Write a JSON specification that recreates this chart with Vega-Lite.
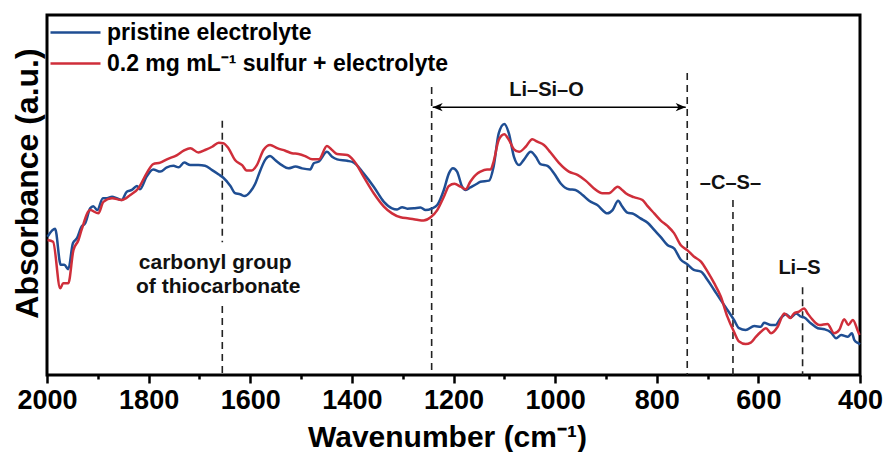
{
  "$schema": "https://vega.github.io/schema/vega-lite/v6.json",
  "width": 813,
  "height": 360,
  "autosize": "none",
  "padding": {"left": 47, "top": 15, "right": 25, "bottom": 77},
  "background": "white",
  "config": {
    "font": "Liberation Sans",
    "view": {"stroke": "black", "strokeWidth": 3},
    "axis": {"grid": false}
  },
  "datasets": {
    "spectra": [
      {"series": "pristine electrolyte", "wavenumber": 1999, "absorbance": 0.384},
      {"series": "pristine electrolyte", "wavenumber": 1984, "absorbance": 0.406},
      {"series": "pristine electrolyte", "wavenumber": 1973, "absorbance": 0.306},
      {"series": "pristine electrolyte", "wavenumber": 1966, "absorbance": 0.306},
      {"series": "pristine electrolyte", "wavenumber": 1958, "absorbance": 0.294},
      {"series": "pristine electrolyte", "wavenumber": 1949, "absorbance": 0.366},
      {"series": "pristine electrolyte", "wavenumber": 1941, "absorbance": 0.380},
      {"series": "pristine electrolyte", "wavenumber": 1932, "absorbance": 0.412},
      {"series": "pristine electrolyte", "wavenumber": 1925, "absorbance": 0.421},
      {"series": "pristine electrolyte", "wavenumber": 1915, "absorbance": 0.463},
      {"series": "pristine electrolyte", "wavenumber": 1909, "absorbance": 0.469},
      {"series": "pristine electrolyte", "wavenumber": 1901, "absorbance": 0.458},
      {"series": "pristine electrolyte", "wavenumber": 1890, "absorbance": 0.491},
      {"series": "pristine electrolyte", "wavenumber": 1882, "absorbance": 0.491},
      {"series": "pristine electrolyte", "wavenumber": 1872, "absorbance": 0.495},
      {"series": "pristine electrolyte", "wavenumber": 1863, "absorbance": 0.491},
      {"series": "pristine electrolyte", "wavenumber": 1853, "absorbance": 0.486},
      {"series": "pristine electrolyte", "wavenumber": 1843, "absorbance": 0.509},
      {"series": "pristine electrolyte", "wavenumber": 1833, "absorbance": 0.514},
      {"series": "pristine electrolyte", "wavenumber": 1823, "absorbance": 0.525},
      {"series": "pristine electrolyte", "wavenumber": 1817, "absorbance": 0.516},
      {"series": "pristine electrolyte", "wavenumber": 1804, "absorbance": 0.551},
      {"series": "pristine electrolyte", "wavenumber": 1791, "absorbance": 0.571},
      {"series": "pristine electrolyte", "wavenumber": 1777, "absorbance": 0.565},
      {"series": "pristine electrolyte", "wavenumber": 1764, "absorbance": 0.577},
      {"series": "pristine electrolyte", "wavenumber": 1751, "absorbance": 0.581},
      {"series": "pristine electrolyte", "wavenumber": 1741, "absorbance": 0.577},
      {"series": "pristine electrolyte", "wavenumber": 1730, "absorbance": 0.590},
      {"series": "pristine electrolyte", "wavenumber": 1718, "absorbance": 0.583},
      {"series": "pristine electrolyte", "wavenumber": 1702, "absorbance": 0.583},
      {"series": "pristine electrolyte", "wavenumber": 1689, "absorbance": 0.581},
      {"series": "pristine electrolyte", "wavenumber": 1675, "absorbance": 0.569},
      {"series": "pristine electrolyte", "wavenumber": 1662, "absorbance": 0.557},
      {"series": "pristine electrolyte", "wavenumber": 1653, "absorbance": 0.548},
      {"series": "pristine electrolyte", "wavenumber": 1639, "absorbance": 0.525},
      {"series": "pristine electrolyte", "wavenumber": 1630, "absorbance": 0.505},
      {"series": "pristine electrolyte", "wavenumber": 1620, "absorbance": 0.502},
      {"series": "pristine electrolyte", "wavenumber": 1611, "absorbance": 0.497},
      {"series": "pristine electrolyte", "wavenumber": 1600, "absorbance": 0.509},
      {"series": "pristine electrolyte", "wavenumber": 1590, "absorbance": 0.532},
      {"series": "pristine electrolyte", "wavenumber": 1580, "absorbance": 0.569},
      {"series": "pristine electrolyte", "wavenumber": 1570, "absorbance": 0.599},
      {"series": "pristine electrolyte", "wavenumber": 1561, "absorbance": 0.608},
      {"series": "pristine electrolyte", "wavenumber": 1551, "absorbance": 0.597},
      {"series": "pristine electrolyte", "wavenumber": 1538, "absorbance": 0.583},
      {"series": "pristine electrolyte", "wavenumber": 1525, "absorbance": 0.574},
      {"series": "pristine electrolyte", "wavenumber": 1511, "absorbance": 0.579},
      {"series": "pristine electrolyte", "wavenumber": 1498, "absorbance": 0.574},
      {"series": "pristine electrolyte", "wavenumber": 1482, "absorbance": 0.571},
      {"series": "pristine electrolyte", "wavenumber": 1475, "absorbance": 0.588},
      {"series": "pristine electrolyte", "wavenumber": 1465, "absorbance": 0.593},
      {"series": "pristine electrolyte", "wavenumber": 1449, "absorbance": 0.620},
      {"series": "pristine electrolyte", "wavenumber": 1439, "absorbance": 0.606},
      {"series": "pristine electrolyte", "wavenumber": 1429, "absorbance": 0.599},
      {"series": "pristine electrolyte", "wavenumber": 1409, "absorbance": 0.595},
      {"series": "pristine electrolyte", "wavenumber": 1396, "absorbance": 0.590},
      {"series": "pristine electrolyte", "wavenumber": 1377, "absorbance": 0.560},
      {"series": "pristine electrolyte", "wavenumber": 1357, "absorbance": 0.523},
      {"series": "pristine electrolyte", "wavenumber": 1337, "absorbance": 0.481},
      {"series": "pristine electrolyte", "wavenumber": 1321, "absorbance": 0.463},
      {"series": "pristine electrolyte", "wavenumber": 1311, "absorbance": 0.460},
      {"series": "pristine electrolyte", "wavenumber": 1301, "absorbance": 0.466},
      {"series": "pristine electrolyte", "wavenumber": 1291, "absorbance": 0.462},
      {"series": "pristine electrolyte", "wavenumber": 1278, "absorbance": 0.463},
      {"series": "pristine electrolyte", "wavenumber": 1265, "absorbance": 0.465},
      {"series": "pristine electrolyte", "wavenumber": 1255, "absorbance": 0.458},
      {"series": "pristine electrolyte", "wavenumber": 1242, "absorbance": 0.463},
      {"series": "pristine electrolyte", "wavenumber": 1232, "absorbance": 0.472},
      {"series": "pristine electrolyte", "wavenumber": 1219, "absorbance": 0.514},
      {"series": "pristine electrolyte", "wavenumber": 1209, "absorbance": 0.560},
      {"series": "pristine electrolyte", "wavenumber": 1201, "absorbance": 0.574},
      {"series": "pristine electrolyte", "wavenumber": 1193, "absorbance": 0.565},
      {"series": "pristine electrolyte", "wavenumber": 1183, "absorbance": 0.523},
      {"series": "pristine electrolyte", "wavenumber": 1176, "absorbance": 0.514},
      {"series": "pristine electrolyte", "wavenumber": 1167, "absorbance": 0.521},
      {"series": "pristine electrolyte", "wavenumber": 1153, "absorbance": 0.532},
      {"series": "pristine electrolyte", "wavenumber": 1147, "absorbance": 0.537},
      {"series": "pristine electrolyte", "wavenumber": 1130, "absorbance": 0.540},
      {"series": "pristine electrolyte", "wavenumber": 1121, "absorbance": 0.579},
      {"series": "pristine electrolyte", "wavenumber": 1111, "absorbance": 0.671},
      {"series": "pristine electrolyte", "wavenumber": 1100, "absorbance": 0.697},
      {"series": "pristine electrolyte", "wavenumber": 1091, "absorbance": 0.671},
      {"series": "pristine electrolyte", "wavenumber": 1081, "absorbance": 0.606},
      {"series": "pristine electrolyte", "wavenumber": 1071, "absorbance": 0.583},
      {"series": "pristine electrolyte", "wavenumber": 1062, "absorbance": 0.597},
      {"series": "pristine electrolyte", "wavenumber": 1048, "absorbance": 0.620},
      {"series": "pristine electrolyte", "wavenumber": 1038, "absorbance": 0.606},
      {"series": "pristine electrolyte", "wavenumber": 1029, "absorbance": 0.586},
      {"series": "pristine electrolyte", "wavenumber": 1015, "absorbance": 0.581},
      {"series": "pristine electrolyte", "wavenumber": 1002, "absorbance": 0.560},
      {"series": "pristine electrolyte", "wavenumber": 989, "absorbance": 0.532},
      {"series": "pristine electrolyte", "wavenumber": 973, "absorbance": 0.516},
      {"series": "pristine electrolyte", "wavenumber": 960, "absorbance": 0.514},
      {"series": "pristine electrolyte", "wavenumber": 946, "absorbance": 0.500},
      {"series": "pristine electrolyte", "wavenumber": 933, "absorbance": 0.484},
      {"series": "pristine electrolyte", "wavenumber": 917, "absorbance": 0.472},
      {"series": "pristine electrolyte", "wavenumber": 897, "absorbance": 0.449},
      {"series": "pristine electrolyte", "wavenumber": 887, "absorbance": 0.458},
      {"series": "pristine electrolyte", "wavenumber": 876, "absorbance": 0.484},
      {"series": "pristine electrolyte", "wavenumber": 868, "absorbance": 0.468},
      {"series": "pristine electrolyte", "wavenumber": 858, "absorbance": 0.451},
      {"series": "pristine electrolyte", "wavenumber": 845, "absorbance": 0.447},
      {"series": "pristine electrolyte", "wavenumber": 832, "absorbance": 0.435},
      {"series": "pristine electrolyte", "wavenumber": 818, "absorbance": 0.423},
      {"series": "pristine electrolyte", "wavenumber": 805, "absorbance": 0.403},
      {"series": "pristine electrolyte", "wavenumber": 792, "absorbance": 0.383},
      {"series": "pristine electrolyte", "wavenumber": 779, "absorbance": 0.361},
      {"series": "pristine electrolyte", "wavenumber": 766, "absorbance": 0.352},
      {"series": "pristine electrolyte", "wavenumber": 753, "absorbance": 0.321},
      {"series": "pristine electrolyte", "wavenumber": 740, "absorbance": 0.308},
      {"series": "pristine electrolyte", "wavenumber": 727, "absorbance": 0.292},
      {"series": "pristine electrolyte", "wavenumber": 713, "absorbance": 0.287},
      {"series": "pristine electrolyte", "wavenumber": 700, "absorbance": 0.264},
      {"series": "pristine electrolyte", "wavenumber": 687, "absorbance": 0.236},
      {"series": "pristine electrolyte", "wavenumber": 674, "absorbance": 0.208},
      {"series": "pristine electrolyte", "wavenumber": 661, "absorbance": 0.181},
      {"series": "pristine electrolyte", "wavenumber": 648, "absorbance": 0.153},
      {"series": "pristine electrolyte", "wavenumber": 638, "absorbance": 0.130},
      {"series": "pristine electrolyte", "wavenumber": 625, "absorbance": 0.125},
      {"series": "pristine electrolyte", "wavenumber": 608, "absorbance": 0.136},
      {"series": "pristine electrolyte", "wavenumber": 595, "absorbance": 0.134},
      {"series": "pristine electrolyte", "wavenumber": 589, "absorbance": 0.145},
      {"series": "pristine electrolyte", "wavenumber": 575, "absorbance": 0.139},
      {"series": "pristine electrolyte", "wavenumber": 566, "absorbance": 0.139},
      {"series": "pristine electrolyte", "wavenumber": 556, "absorbance": 0.158},
      {"series": "pristine electrolyte", "wavenumber": 546, "absorbance": 0.169},
      {"series": "pristine electrolyte", "wavenumber": 536, "absorbance": 0.160},
      {"series": "pristine electrolyte", "wavenumber": 526, "absorbance": 0.171},
      {"series": "pristine electrolyte", "wavenumber": 516, "absorbance": 0.162},
      {"series": "pristine electrolyte", "wavenumber": 510, "absorbance": 0.160},
      {"series": "pristine electrolyte", "wavenumber": 497, "absorbance": 0.144},
      {"series": "pristine electrolyte", "wavenumber": 483, "absorbance": 0.130},
      {"series": "pristine electrolyte", "wavenumber": 470, "absorbance": 0.127},
      {"series": "pristine electrolyte", "wavenumber": 457, "absorbance": 0.118},
      {"series": "pristine electrolyte", "wavenumber": 447, "absorbance": 0.102},
      {"series": "pristine electrolyte", "wavenumber": 437, "absorbance": 0.111},
      {"series": "pristine electrolyte", "wavenumber": 424, "absorbance": 0.106},
      {"series": "pristine electrolyte", "wavenumber": 416, "absorbance": 0.116},
      {"series": "pristine electrolyte", "wavenumber": 411, "absorbance": 0.097},
      {"series": "pristine electrolyte", "wavenumber": 403, "absorbance": 0.088},
      {"series": "pristine electrolyte", "wavenumber": 400, "absorbance": 0.085},
      {"series": "0.2 mg mL⁻¹ sulfur + electrolyte", "wavenumber": 1999, "absorbance": 0.375},
      {"series": "0.2 mg mL⁻¹ sulfur + electrolyte", "wavenumber": 1988, "absorbance": 0.370},
      {"series": "0.2 mg mL⁻¹ sulfur + electrolyte", "wavenumber": 1974, "absorbance": 0.241},
      {"series": "0.2 mg mL⁻¹ sulfur + electrolyte", "wavenumber": 1968, "absorbance": 0.255},
      {"series": "0.2 mg mL⁻¹ sulfur + electrolyte", "wavenumber": 1958, "absorbance": 0.255},
      {"series": "0.2 mg mL⁻¹ sulfur + electrolyte", "wavenumber": 1948, "absorbance": 0.347},
      {"series": "0.2 mg mL⁻¹ sulfur + electrolyte", "wavenumber": 1938, "absorbance": 0.375},
      {"series": "0.2 mg mL⁻¹ sulfur + electrolyte", "wavenumber": 1932, "absorbance": 0.403},
      {"series": "0.2 mg mL⁻¹ sulfur + electrolyte", "wavenumber": 1915, "absorbance": 0.458},
      {"series": "0.2 mg mL⁻¹ sulfur + electrolyte", "wavenumber": 1899, "absorbance": 0.449},
      {"series": "0.2 mg mL⁻¹ sulfur + electrolyte", "wavenumber": 1889, "absorbance": 0.481},
      {"series": "0.2 mg mL⁻¹ sulfur + electrolyte", "wavenumber": 1872, "absorbance": 0.491},
      {"series": "0.2 mg mL⁻¹ sulfur + electrolyte", "wavenumber": 1853, "absorbance": 0.486},
      {"series": "0.2 mg mL⁻¹ sulfur + electrolyte", "wavenumber": 1836, "absorbance": 0.500},
      {"series": "0.2 mg mL⁻¹ sulfur + electrolyte", "wavenumber": 1820, "absorbance": 0.519},
      {"series": "0.2 mg mL⁻¹ sulfur + electrolyte", "wavenumber": 1804, "absorbance": 0.560},
      {"series": "0.2 mg mL⁻¹ sulfur + electrolyte", "wavenumber": 1791, "absorbance": 0.586},
      {"series": "0.2 mg mL⁻¹ sulfur + electrolyte", "wavenumber": 1777, "absorbance": 0.590},
      {"series": "0.2 mg mL⁻¹ sulfur + electrolyte", "wavenumber": 1764, "absorbance": 0.599},
      {"series": "0.2 mg mL⁻¹ sulfur + electrolyte", "wavenumber": 1744, "absorbance": 0.611},
      {"series": "0.2 mg mL⁻¹ sulfur + electrolyte", "wavenumber": 1731, "absorbance": 0.623},
      {"series": "0.2 mg mL⁻¹ sulfur + electrolyte", "wavenumber": 1718, "absorbance": 0.630},
      {"series": "0.2 mg mL⁻¹ sulfur + electrolyte", "wavenumber": 1702, "absorbance": 0.618},
      {"series": "0.2 mg mL⁻¹ sulfur + electrolyte", "wavenumber": 1689, "absorbance": 0.625},
      {"series": "0.2 mg mL⁻¹ sulfur + electrolyte", "wavenumber": 1675, "absorbance": 0.634},
      {"series": "0.2 mg mL⁻¹ sulfur + electrolyte", "wavenumber": 1662, "absorbance": 0.645},
      {"series": "0.2 mg mL⁻¹ sulfur + electrolyte", "wavenumber": 1653, "absorbance": 0.644},
      {"series": "0.2 mg mL⁻¹ sulfur + electrolyte", "wavenumber": 1643, "absorbance": 0.630},
      {"series": "0.2 mg mL⁻¹ sulfur + electrolyte", "wavenumber": 1630, "absorbance": 0.597},
      {"series": "0.2 mg mL⁻¹ sulfur + electrolyte", "wavenumber": 1616, "absorbance": 0.583},
      {"series": "0.2 mg mL⁻¹ sulfur + electrolyte", "wavenumber": 1607, "absorbance": 0.568},
      {"series": "0.2 mg mL⁻¹ sulfur + electrolyte", "wavenumber": 1597, "absorbance": 0.568},
      {"series": "0.2 mg mL⁻¹ sulfur + electrolyte", "wavenumber": 1587, "absorbance": 0.583},
      {"series": "0.2 mg mL⁻¹ sulfur + electrolyte", "wavenumber": 1574, "absorbance": 0.625},
      {"series": "0.2 mg mL⁻¹ sulfur + electrolyte", "wavenumber": 1561, "absorbance": 0.639},
      {"series": "0.2 mg mL⁻¹ sulfur + electrolyte", "wavenumber": 1547, "absorbance": 0.630},
      {"series": "0.2 mg mL⁻¹ sulfur + electrolyte", "wavenumber": 1531, "absorbance": 0.623},
      {"series": "0.2 mg mL⁻¹ sulfur + electrolyte", "wavenumber": 1518, "absorbance": 0.616},
      {"series": "0.2 mg mL⁻¹ sulfur + electrolyte", "wavenumber": 1505, "absorbance": 0.614},
      {"series": "0.2 mg mL⁻¹ sulfur + electrolyte", "wavenumber": 1492, "absorbance": 0.608},
      {"series": "0.2 mg mL⁻¹ sulfur + electrolyte", "wavenumber": 1478, "absorbance": 0.599},
      {"series": "0.2 mg mL⁻¹ sulfur + electrolyte", "wavenumber": 1465, "absorbance": 0.599},
      {"series": "0.2 mg mL⁻¹ sulfur + electrolyte", "wavenumber": 1449, "absorbance": 0.636},
      {"series": "0.2 mg mL⁻¹ sulfur + electrolyte", "wavenumber": 1439, "absorbance": 0.625},
      {"series": "0.2 mg mL⁻¹ sulfur + electrolyte", "wavenumber": 1429, "absorbance": 0.614},
      {"series": "0.2 mg mL⁻¹ sulfur + electrolyte", "wavenumber": 1409, "absorbance": 0.611},
      {"series": "0.2 mg mL⁻¹ sulfur + electrolyte", "wavenumber": 1396, "absorbance": 0.595},
      {"series": "0.2 mg mL⁻¹ sulfur + electrolyte", "wavenumber": 1377, "absorbance": 0.551},
      {"series": "0.2 mg mL⁻¹ sulfur + electrolyte", "wavenumber": 1357, "absorbance": 0.505},
      {"series": "0.2 mg mL⁻¹ sulfur + electrolyte", "wavenumber": 1337, "absorbance": 0.468},
      {"series": "0.2 mg mL⁻¹ sulfur + electrolyte", "wavenumber": 1321, "absorbance": 0.449},
      {"series": "0.2 mg mL⁻¹ sulfur + electrolyte", "wavenumber": 1304, "absorbance": 0.438},
      {"series": "0.2 mg mL⁻¹ sulfur + electrolyte", "wavenumber": 1288, "absorbance": 0.435},
      {"series": "0.2 mg mL⁻¹ sulfur + electrolyte", "wavenumber": 1272, "absorbance": 0.431},
      {"series": "0.2 mg mL⁻¹ sulfur + electrolyte", "wavenumber": 1259, "absorbance": 0.429},
      {"series": "0.2 mg mL⁻¹ sulfur + electrolyte", "wavenumber": 1245, "absorbance": 0.438},
      {"series": "0.2 mg mL⁻¹ sulfur + electrolyte", "wavenumber": 1232, "absorbance": 0.458},
      {"series": "0.2 mg mL⁻¹ sulfur + electrolyte", "wavenumber": 1219, "absorbance": 0.495},
      {"series": "0.2 mg mL⁻¹ sulfur + electrolyte", "wavenumber": 1209, "absorbance": 0.525},
      {"series": "0.2 mg mL⁻¹ sulfur + electrolyte", "wavenumber": 1198, "absorbance": 0.531},
      {"series": "0.2 mg mL⁻¹ sulfur + electrolyte", "wavenumber": 1186, "absorbance": 0.523},
      {"series": "0.2 mg mL⁻¹ sulfur + electrolyte", "wavenumber": 1176, "absorbance": 0.516},
      {"series": "0.2 mg mL⁻¹ sulfur + electrolyte", "wavenumber": 1167, "absorbance": 0.537},
      {"series": "0.2 mg mL⁻¹ sulfur + electrolyte", "wavenumber": 1153, "absorbance": 0.560},
      {"series": "0.2 mg mL⁻¹ sulfur + electrolyte", "wavenumber": 1147, "absorbance": 0.565},
      {"series": "0.2 mg mL⁻¹ sulfur + electrolyte", "wavenumber": 1134, "absorbance": 0.571},
      {"series": "0.2 mg mL⁻¹ sulfur + electrolyte", "wavenumber": 1127, "absorbance": 0.571},
      {"series": "0.2 mg mL⁻¹ sulfur + electrolyte", "wavenumber": 1121, "absorbance": 0.593},
      {"series": "0.2 mg mL⁻¹ sulfur + electrolyte", "wavenumber": 1111, "absorbance": 0.653},
      {"series": "0.2 mg mL⁻¹ sulfur + electrolyte", "wavenumber": 1100, "absorbance": 0.669},
      {"series": "0.2 mg mL⁻¹ sulfur + electrolyte", "wavenumber": 1091, "absorbance": 0.653},
      {"series": "0.2 mg mL⁻¹ sulfur + electrolyte", "wavenumber": 1081, "absorbance": 0.627},
      {"series": "0.2 mg mL⁻¹ sulfur + electrolyte", "wavenumber": 1071, "absorbance": 0.620},
      {"series": "0.2 mg mL⁻¹ sulfur + electrolyte", "wavenumber": 1058, "absorbance": 0.634},
      {"series": "0.2 mg mL⁻¹ sulfur + electrolyte", "wavenumber": 1045, "absorbance": 0.655},
      {"series": "0.2 mg mL⁻¹ sulfur + electrolyte", "wavenumber": 1035, "absorbance": 0.648},
      {"series": "0.2 mg mL⁻¹ sulfur + electrolyte", "wavenumber": 1022, "absorbance": 0.639},
      {"series": "0.2 mg mL⁻¹ sulfur + electrolyte", "wavenumber": 1009, "absorbance": 0.618},
      {"series": "0.2 mg mL⁻¹ sulfur + electrolyte", "wavenumber": 993, "absorbance": 0.590},
      {"series": "0.2 mg mL⁻¹ sulfur + electrolyte", "wavenumber": 973, "absorbance": 0.565},
      {"series": "0.2 mg mL⁻¹ sulfur + electrolyte", "wavenumber": 956, "absorbance": 0.556},
      {"series": "0.2 mg mL⁻¹ sulfur + electrolyte", "wavenumber": 940, "absorbance": 0.540},
      {"series": "0.2 mg mL⁻¹ sulfur + electrolyte", "wavenumber": 924, "absorbance": 0.519},
      {"series": "0.2 mg mL⁻¹ sulfur + electrolyte", "wavenumber": 907, "absorbance": 0.505},
      {"series": "0.2 mg mL⁻¹ sulfur + electrolyte", "wavenumber": 894, "absorbance": 0.505},
      {"series": "0.2 mg mL⁻¹ sulfur + electrolyte", "wavenumber": 877, "absorbance": 0.523},
      {"series": "0.2 mg mL⁻¹ sulfur + electrolyte", "wavenumber": 868, "absorbance": 0.514},
      {"series": "0.2 mg mL⁻¹ sulfur + electrolyte", "wavenumber": 861, "absorbance": 0.505},
      {"series": "0.2 mg mL⁻¹ sulfur + electrolyte", "wavenumber": 845, "absorbance": 0.494},
      {"series": "0.2 mg mL⁻¹ sulfur + electrolyte", "wavenumber": 828, "absorbance": 0.486},
      {"series": "0.2 mg mL⁻¹ sulfur + electrolyte", "wavenumber": 818, "absorbance": 0.469},
      {"series": "0.2 mg mL⁻¹ sulfur + electrolyte", "wavenumber": 805, "absorbance": 0.449},
      {"series": "0.2 mg mL⁻¹ sulfur + electrolyte", "wavenumber": 792, "absorbance": 0.429},
      {"series": "0.2 mg mL⁻¹ sulfur + electrolyte", "wavenumber": 779, "absorbance": 0.414},
      {"series": "0.2 mg mL⁻¹ sulfur + electrolyte", "wavenumber": 766, "absorbance": 0.394},
      {"series": "0.2 mg mL⁻¹ sulfur + electrolyte", "wavenumber": 753, "absorbance": 0.361},
      {"series": "0.2 mg mL⁻¹ sulfur + electrolyte", "wavenumber": 740, "absorbance": 0.347},
      {"series": "0.2 mg mL⁻¹ sulfur + electrolyte", "wavenumber": 727, "absorbance": 0.329},
      {"series": "0.2 mg mL⁻¹ sulfur + electrolyte", "wavenumber": 713, "absorbance": 0.315},
      {"series": "0.2 mg mL⁻¹ sulfur + electrolyte", "wavenumber": 700, "absorbance": 0.287},
      {"series": "0.2 mg mL⁻¹ sulfur + electrolyte", "wavenumber": 687, "absorbance": 0.255},
      {"series": "0.2 mg mL⁻¹ sulfur + electrolyte", "wavenumber": 674, "absorbance": 0.218},
      {"series": "0.2 mg mL⁻¹ sulfur + electrolyte", "wavenumber": 661, "absorbance": 0.162},
      {"series": "0.2 mg mL⁻¹ sulfur + electrolyte", "wavenumber": 648, "absorbance": 0.120},
      {"series": "0.2 mg mL⁻¹ sulfur + electrolyte", "wavenumber": 638, "absorbance": 0.093},
      {"series": "0.2 mg mL⁻¹ sulfur + electrolyte", "wavenumber": 625, "absorbance": 0.086},
      {"series": "0.2 mg mL⁻¹ sulfur + electrolyte", "wavenumber": 615, "absorbance": 0.090},
      {"series": "0.2 mg mL⁻¹ sulfur + electrolyte", "wavenumber": 605, "absorbance": 0.106},
      {"series": "0.2 mg mL⁻¹ sulfur + electrolyte", "wavenumber": 595, "absorbance": 0.120},
      {"series": "0.2 mg mL⁻¹ sulfur + electrolyte", "wavenumber": 585, "absorbance": 0.130},
      {"series": "0.2 mg mL⁻¹ sulfur + electrolyte", "wavenumber": 575, "absorbance": 0.116},
      {"series": "0.2 mg mL⁻¹ sulfur + electrolyte", "wavenumber": 562, "absorbance": 0.134},
      {"series": "0.2 mg mL⁻¹ sulfur + electrolyte", "wavenumber": 549, "absorbance": 0.171},
      {"series": "0.2 mg mL⁻¹ sulfur + electrolyte", "wavenumber": 537, "absorbance": 0.158},
      {"series": "0.2 mg mL⁻¹ sulfur + electrolyte", "wavenumber": 530, "absorbance": 0.171},
      {"series": "0.2 mg mL⁻¹ sulfur + electrolyte", "wavenumber": 520, "absorbance": 0.176},
      {"series": "0.2 mg mL⁻¹ sulfur + electrolyte", "wavenumber": 510, "absorbance": 0.185},
      {"series": "0.2 mg mL⁻¹ sulfur + electrolyte", "wavenumber": 503, "absorbance": 0.171},
      {"series": "0.2 mg mL⁻¹ sulfur + electrolyte", "wavenumber": 493, "absorbance": 0.153},
      {"series": "0.2 mg mL⁻¹ sulfur + electrolyte", "wavenumber": 480, "absorbance": 0.139},
      {"series": "0.2 mg mL⁻¹ sulfur + electrolyte", "wavenumber": 464, "absorbance": 0.142},
      {"series": "0.2 mg mL⁻¹ sulfur + electrolyte", "wavenumber": 451, "absorbance": 0.116},
      {"series": "0.2 mg mL⁻¹ sulfur + electrolyte", "wavenumber": 441, "absorbance": 0.125},
      {"series": "0.2 mg mL⁻¹ sulfur + electrolyte", "wavenumber": 431, "absorbance": 0.155},
      {"series": "0.2 mg mL⁻¹ sulfur + electrolyte", "wavenumber": 423, "absorbance": 0.139},
      {"series": "0.2 mg mL⁻¹ sulfur + electrolyte", "wavenumber": 414, "absorbance": 0.153},
      {"series": "0.2 mg mL⁻¹ sulfur + electrolyte", "wavenumber": 405, "absorbance": 0.125},
      {"series": "0.2 mg mL⁻¹ sulfur + electrolyte", "wavenumber": 401, "absorbance": 0.111}
    ],
    "markers": [
      {"wavenumber": 1655, "absorbance": 0.706, "absorbance_end": 0.369},
      {"wavenumber": 1655, "absorbance": 0.192, "absorbance_end": 0},
      {"wavenumber": 1243, "absorbance": 0.8, "absorbance_end": 0},
      {"wavenumber": 740, "absorbance": 0.839, "absorbance_end": 0},
      {"wavenumber": 650, "absorbance": 0.486, "absorbance_end": 0},
      {"wavenumber": 513, "absorbance": 0.244, "absorbance_end": 0}
    ],
    "span": [
      {"wavenumber": 1241, "wavenumber_end": 743, "absorbance": 0.744}
    ],
    "labels": [
      {"label": "Li–Si–O", "wavenumber": 1017, "absorbance": 0.792, "size": "normal"},
      {"label": "–C–S–", "wavenumber": 655, "absorbance": 0.533, "size": "normal"},
      {"label": "Li–S", "wavenumber": 519, "absorbance": 0.297, "size": "normal"},
      {"label": "carbonyl group", "wavenumber": 1669, "absorbance": 0.311, "size": "large"},
      {"label": "of thiocarbonate", "wavenumber": 1663, "absorbance": 0.244, "size": "large"}
    ]
  },
  "encoding": {
    "x": {
      "field": "wavenumber",
      "type": "quantitative",
      "scale": {"domain": [2000, 400], "nice": false, "zero": false},
      "axis": {
        "title": "Wavenumber (cm⁻¹)",
        "values": [2000, 1900, 1800, 1700, 1600, 1500, 1400, 1300, 1200, 1100, 1000, 900, 800, 700, 600, 500, 400],
        "labelExpr": "datum.value % 200 === 0 ? datum.label : ''",
        "format": "d",
        "domain": false,
        "grid": false,
        "tickColor": "black",
        "tickWidth": 2.5,
        "tickSize": {"condition": {"test": "datum.value % 200 === 0", "value": 8}, "value": 4},
        "labelFont": "Liberation Sans",
        "labelFontSize": 27,
        "labelFontWeight": "bold",
        "labelColor": "black",
        "labelPadding": 4,
        "labelFlush": false,
        "labelOverlap": false,
        "titleFont": "Liberation Sans",
        "titleFontSize": 30,
        "titleFontWeight": "bold",
        "titleColor": "black",
        "titleX": 400,
        "titleY": 71,
        "titleBaseline": "alphabetic"
      }
    },
    "y": {
      "field": "absorbance",
      "type": "quantitative",
      "scale": {"domain": [0, 1], "nice": false, "zero": false},
      "axis": {
        "title": "Absorbance (a.u.)",
        "ticks": false,
        "labels": false,
        "domain": false,
        "grid": false,
        "titleFont": "Liberation Sans",
        "titleFontSize": 32,
        "titleFontWeight": "bold",
        "titleColor": "black",
        "titleAngle": 270,
        "titleAlign": "center",
        "titleBaseline": "middle",
        "titleX": -20,
        "titleY": 168
      }
    }
  },
  "layer": [
    {
      "data": {"name": "markers"},
      "mark": {"type": "rule", "color": "#222222", "strokeWidth": 1.6, "strokeDash": [7, 5]},
      "encoding": {"y2": {"field": "absorbance_end"}}
    },
    {
      "data": {"name": "span"},
      "mark": {"type": "rule", "color": "black", "strokeWidth": 1.5},
      "encoding": {"x2": {"field": "wavenumber_end"}}
    },
    {
      "data": {"name": "span"},
      "mark": {"type": "point", "shape": "M0,0L1,-0.42L0.72,0L1,0.42Z", "size": 400, "filled": true, "color": "black", "opacity": 1}
    },
    {
      "data": {"name": "span"},
      "mark": {"type": "point", "shape": "M0,0L-1,-0.42L-0.72,0L-1,0.42Z", "size": 400, "filled": true, "color": "black", "opacity": 1},
      "encoding": {"x": {"field": "wavenumber_end", "type": "quantitative"}}
    },
    {
      "data": {"name": "labels"},
      "mark": {"type": "text", "font": "Liberation Sans", "fontWeight": "bold", "color": "#111111", "align": "center", "baseline": "middle"},
      "encoding": {
        "text": {"field": "label"},
        "size": {"field": "size", "type": "nominal", "scale": {"domain": ["normal", "large"], "range": [20, 21]}, "legend": null}
      }
    },
    {
      "data": {"name": "spectra"},
      "mark": {"type": "line", "strokeWidth": 2.5, "interpolate": "monotone"},
      "encoding": {
        "color": {
          "field": "series",
          "type": "nominal",
          "scale": {"domain": ["pristine electrolyte", "0.2 mg mL⁻¹ sulfur + electrolyte"], "range": ["#1f4e93", "#cf2e3a"]},
          "legend": {
            "orient": "none",
            "legendX": 3,
            "legendY": 6,
            "title": null,
            "padding": 0,
            "symbolType": "M-5,0L5,0",
            "symbolSize": 100,
            "symbolStrokeWidth": 2.5,
            "symbolOffset": 14,
            "labelFont": "Liberation Sans",
            "labelFontSize": 23,
            "labelFontWeight": "bold",
            "labelColor": "black",
            "labelOffset": 20,
            "labelLimit": 500,
            "rowPadding": 7
          }
        },
        "order": {"field": "wavenumber", "type": "quantitative", "sort": "descending"}
      }
    }
  ]
}
